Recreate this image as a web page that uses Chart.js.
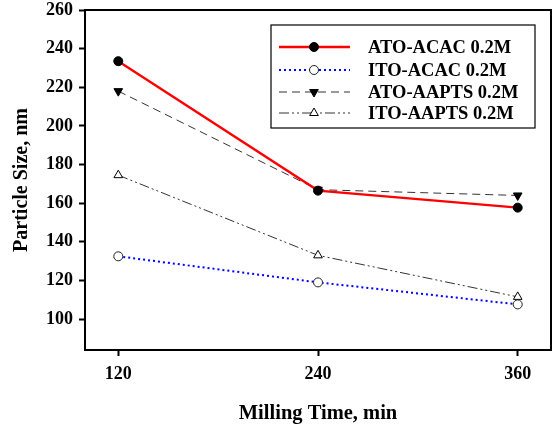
<!DOCTYPE html>
<html>
<head>
<meta charset="utf-8">
<script src="https://cdn.jsdelivr.net/npm/chart.js@4"></script>
<style>
html,body{margin:0;padding:0;background:#fff;}
#wrap{width:557px;height:426px;position:relative;}
</style>
</head>
<body>
<div id="wrap"><canvas id="c" width="557" height="426"></canvas></div>
<script>
const millingTimes = [120, 240, 360];
const xTickValues = [120, 240, 360];
const yTickValues = [100, 120, 140, 160, 180, 200, 220, 240, 260];
const seriesLabels = ["ATO-ACAC 0.2M", "ITO-ACAC 0.2M", "ATO-AAPTS 0.2M", "ITO-AAPTS 0.2M"];
const atoAcac = [233.5, 166.5, 157.7];
const itoAcac = [132.5, 119.0, 107.6];
const atoAapts = [218.0, 167.0, 164.0];
const itoAapts = [174.5, 133.0, 111.5];

function pts(vals){ return millingTimes.map((t,i)=>({x:t,y:vals[i]})); }

const FONT = "'Liberation Serif', 'Times New Roman', serif";

const datasets = [
  {label: seriesLabels[0], data: pts(atoAcac), borderColor:'#ff0000', borderWidth:2.4,
   pointStyle:'circle', pointRadius:4.5, pointBackgroundColor:'#000', pointBorderColor:'#000', pointBorderWidth:1},
  {label: seriesLabels[1], data: pts(itoAcac), borderColor:'#0000ff', borderWidth:2, borderDash:[2,3],
   pointStyle:'circle', pointRadius:4.5, pointBackgroundColor:'#fff', pointBorderColor:'#222', pointBorderWidth:1},
  {label: seriesLabels[2], data: pts(atoAapts), borderColor:'#333', borderWidth:1, borderDash:[8,5],
   pointStyle:'triangle', rotation:180, pointRadius:5, pointBackgroundColor:'#000', pointBorderColor:'#000', pointBorderWidth:1},
  {label: seriesLabels[3], data: pts(itoAapts), borderColor:'#333', borderWidth:1, borderDash:[10,3,2,3,2,3],
   pointStyle:'triangle', pointRadius:5, pointBackgroundColor:'#fff', pointBorderColor:'#000', pointBorderWidth:1}
];
datasets.forEach(d=>{ d.fill=false; d.tension=0; d.showLine=true; });

const framePlugin = {
  id:'frame',
  afterDraw(chart){
    const {ctx, chartArea:a} = chart;
    ctx.save();
    ctx.strokeStyle='#000'; ctx.lineWidth=2;
    ctx.strokeRect(a.left, a.top, a.right-a.left, a.bottom-a.top);
    // legend box
    const bx=271, by=25, bw=264, bh=103;
    ctx.fillStyle='#fff';
    ctx.fillRect(bx,by,bw,bh);
    ctx.lineWidth=1.2; ctx.strokeStyle='#000';
    ctx.strokeRect(bx,by,bw,bh);
    const rows=[47,70,92,113];
    chart.data.datasets.forEach((d,i)=>{
      const y=rows[i];
      ctx.save();
      ctx.strokeStyle=d.borderColor; ctx.lineWidth=d.borderWidth;
      ctx.setLineDash(d.borderDash||[]);
      ctx.beginPath(); ctx.moveTo(279,y); ctx.lineTo(350,y); ctx.stroke();
      ctx.restore();
      ctx.save();
      ctx.fillStyle=d.pointBackgroundColor; ctx.strokeStyle=d.pointBorderColor; ctx.lineWidth=1;
      Chart.helpers.drawPoint(ctx,{pointStyle:d.pointStyle, rotation:d.rotation||0, radius:d.pointRadius, borderWidth:1}, 314, y);
      ctx.restore();
      ctx.fillStyle='#000';
      ctx.font="bold 18.5px "+FONT;
      ctx.textBaseline='middle'; ctx.textAlign='left';
      ctx.fillText(d.label, 368, y+1);
    });
    ctx.restore();
  }
};

new Chart(document.getElementById('c'), {
  type:'line',
  data:{datasets},
  plugins:[framePlugin],
  options:{
    responsive:false, animation:false,
    layout:{padding:{top:0,right:2,left:0,bottom:0}},
    plugins:{legend:{display:false}, tooltip:{enabled:false}},
    scales:{
      x:{type:'linear', min:100, max:380,
        afterBuildTicks(s){ s.ticks = xTickValues.map(v=>({value:v})); },
        afterFit(s){ s.height=76; },
        grid:{drawOnChartArea:false, drawTicks:true, tickLength:6, color:'#000', tickWidth:2},
        border:{display:true, color:'#000', width:2},
        ticks:{color:'#000', padding:8, font:{family:FONT, size:18, weight:'bold'}},
        title:{display:true, text:'Milling Time, min', color:'#000', padding:{top:8,bottom:0},
          font:{family:FONT, size:20.5, weight:'bold'}}
      },
      y:{type:'linear', min:84, max:260,
        afterBuildTicks(s){ s.ticks = yTickValues.map(v=>({value:v})); },
        afterFit(s){ s.width=85; s.paddingTop = 10; },
        grid:{drawOnChartArea:false, drawTicks:true, tickLength:6, color:'#000', tickWidth:2},
        border:{display:true, color:'#000', width:2},
        ticks:{color:'#000', padding:6, font:{family:FONT, size:18, weight:'bold'}},
        title:{display:true, text:'Particle Size, nm', color:'#000', padding:{top:10,bottom:2},
          font:{family:FONT, size:20, weight:'bold'}}
      }
    }
  }
});
</script>
</body>
</html>
